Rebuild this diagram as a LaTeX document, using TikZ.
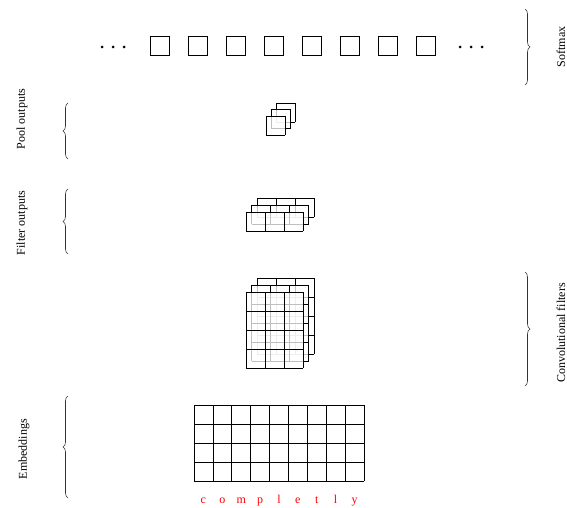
\documentclass[tikz,border=0pt]{standalone}
\usepackage{fontspec}
\setmainfont{Liberation Serif}
\usetikzlibrary{decorations.pathreplacing}
\tikzset{
  cellline/.style={line width=0.7pt, black},
  layerfill/.style={fill=white, fill opacity=0.75},
  bracestyle/.style={decorate, decoration={brace, amplitude=5pt}, line width=0.6pt, black!80},
  sidelabel/.style={rotate=90, font=\fontsize{12}{14}\selectfont, inner sep=0pt},
  wordletter/.style={text=red, font=\fontsize{12}{14}\selectfont, inner sep=0pt},
  softbox/.style={draw, line width=0.7pt, minimum size=19pt, inner sep=0pt},
  dotstyle/.style={fill=black}
}
% #1,#2: top-left; #3 cols; #4 rows; cell size 19
\newcommand\cellgrid[4]{%
  \fill[layerfill] (#1,#2) rectangle ++(#3*19,#4*19);
  \foreach \ci in {0,...,#3} {\draw[cellline] (#1+\ci*19,#2) -- ++(0,#4*19);}
  \foreach \ri in {0,...,#4} {\draw[cellline] (#1,#2+\ri*19) -- ++(#3*19,0);}
}
\begin{document}
\begin{tikzpicture}[x=1pt,y=-1pt]
\useasboundingbox (0,0) rectangle (567,508);

% Softmax row
\foreach \k in {0,...,7} {
  \node[softbox] (sm\k) at (160+\k*38,46) {};
}
\foreach \k in {0,1,2} {
  \fill[dotstyle] (102+\k*11,47) circle (1.5);
  \fill[dotstyle] (460+\k*11,47) circle (1.5);
}

% Pool outputs
\cellgrid{276}{103}{1}{1}
\cellgrid{271}{109.5}{1}{1}
\cellgrid{266}{116}{1}{1}

% Filter outputs
\cellgrid{257}{198}{3}{1}
\cellgrid{251.5}{205}{3}{1}
\cellgrid{246}{212}{3}{1}

% Convolutional filters
\cellgrid{257}{278}{3}{4}
\cellgrid{251.5}{285}{3}{4}
\cellgrid{246}{292}{3}{4}

% Embeddings
\fill[white] (194,405) rectangle (364,481);
\foreach \ci in {0,...,9} {\draw[cellline] (194+\ci*18.89,405) -- (194+\ci*18.89,481);}
\foreach \ri in {0,...,4} {\draw[cellline] (194,405+\ri*19) -- (364,405+\ri*19);}

% Word letters
\foreach \ch [count=\n from 0] in {c,o,m,p,l,e,t,l,y} {
  \node[wordletter, anchor=base] (w\n) at (203.4+\n*18.89,503) {\ch};
}

% Left braces and labels
\coordinate (pb1) at (68,159);
\coordinate (pt1) at (68,103);
\draw[bracestyle] (pb1) -- (pt1);
\node[sidelabel] (poollab) at (22,119) {Pool outputs};

\coordinate (pb2) at (68,254);
\coordinate (pt2) at (68,189);
\draw[bracestyle] (pb2) -- (pt2);
\node[sidelabel] (filtlab) at (22,223) {Filter outputs};

\coordinate (pb3) at (68,498);
\coordinate (pt3) at (68,396);
\draw[bracestyle] (pb3) -- (pt3);
\node[sidelabel] (emblab) at (24,449) {Embeddings};

% Right braces and labels
\coordinate (st) at (525,9);
\coordinate (sb) at (525,85);
\draw[bracestyle] (st) -- (sb);
\node[sidelabel] (softlab) at (561,47) {Softmax};

\coordinate (ct) at (525,272);
\coordinate (cb) at (525,386);
\draw[bracestyle] (ct) -- (cb);
\node[sidelabel] (convlab) at (561,333) {Convolutional filters};
\end{tikzpicture}
\end{document}
